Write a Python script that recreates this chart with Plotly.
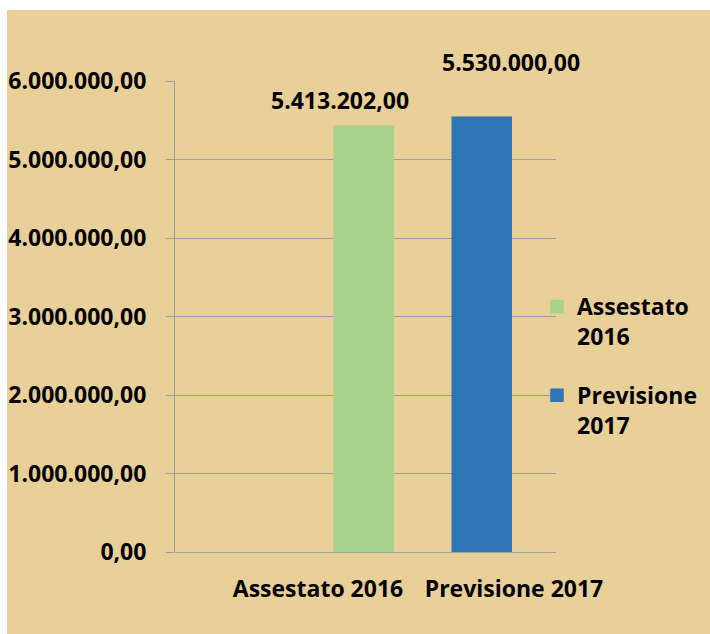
import plotly.graph_objects as go

categories = ["Assestato 2016", "Previsione 2017"]
values = [5413202.00, 5530000.00]
colors = ["#A9D18E", "#2E75B6"]
y_ticks = [0, 1000000, 2000000, 3000000, 4000000, 5000000, 6000000]

FONT = "Open Sans"
GRID = "#9C9CA4"
TAN = "#E9CF98"

fig = go.Figure()
for i, (name, val, col) in enumerate(zip(categories, values, colors)):
    fig.add_trace(go.Bar(
        x=[i], y=[val], name=name.replace(" ", "<br>"), width=0.5,
        marker=dict(color=col, line=dict(color=col, width=1.5)),
        legendgroup=name, hoverinfo="y",
    ))

label_shift = [(-25, 27), (28, 56)]
for i, val in enumerate(values):
    txt = f"{val:,.2f}".replace(",", "X").replace(".", ",").replace("X", ".")
    fig.add_annotation(x=i, y=val, text=txt, showarrow=False,
                       xanchor="center", yanchor="middle",
                       xshift=label_shift[i][0], yshift=label_shift[i][1],
                       font=dict(family=FONT, size=23, color="black", weight="bold"))

L, R, T, B = 175, 154, 81, 82
W, H = 710 - L - R, 634 - T - B
# white frame strips at top and left (picture border)
fig.add_shape(type="rect", xref="paper", yref="paper", layer="below",
              x0=-L / W - 0.05, x1=(710 - L) / W + 0.05,
              y0=(634 - B - 10) / H, y1=(634 - B) / H + 0.05,
              fillcolor="white", line=dict(width=0))
fig.add_shape(type="rect", xref="paper", yref="paper", layer="below",
              x0=-L / W - 0.05, x1=(7 - L) / W,
              y0=-B / H - 0.05, y1=(634 - B) / H + 0.05,
              fillcolor="white", line=dict(width=0))

fig.update_layout(
    width=710, height=634,
    margin=dict(l=L, r=R, t=T, b=B, autoexpand=False),
    paper_bgcolor=TAN, plot_bgcolor="rgba(0,0,0,0)",
    separators=",.",
    barmode="overlay",
    bargap=0,
    showlegend=True,
    legend=dict(x=(537 - L) / W, xanchor="left", y=(552 - 285) / H, yanchor="top",
                valign="top", tracegroupgap=26, bgcolor="rgba(0,0,0,0)",
                font=dict(family=FONT, size=23, color="black", weight="bold")),
    font=dict(family=FONT, color="black"),
)

fig.update_xaxes(
    range=[-1.61, 1.619], tickmode="array",
    tickvals=[-0.398, 1.263], ticktext=categories,
    showgrid=False, zeroline=False, showline=False, ticks="",
    ticklabelstandoff=21,
    tickfont=dict(family=FONT, size=23, color="black", weight="bold"),
)
fig.update_yaxes(
    range=[0, 6000000], tickmode="array", tickvals=y_ticks, tickformat=",.2f",
    showgrid=True, gridcolor=GRID, gridwidth=1,
    zeroline=True, zerolinecolor=GRID, zerolinewidth=1,
    showline=True, linecolor=GRID, linewidth=1,
    ticks="outside", ticklen=8, tickcolor=GRID, ticklabelstandoff=15,
    tickfont=dict(family=FONT, size=23, color="black", weight="bold"),
)

fig.write_html("out.html", config={"displayModeBar": False},
               post_script="document.body.style.margin='0';document.body.style.overflow='hidden';")
